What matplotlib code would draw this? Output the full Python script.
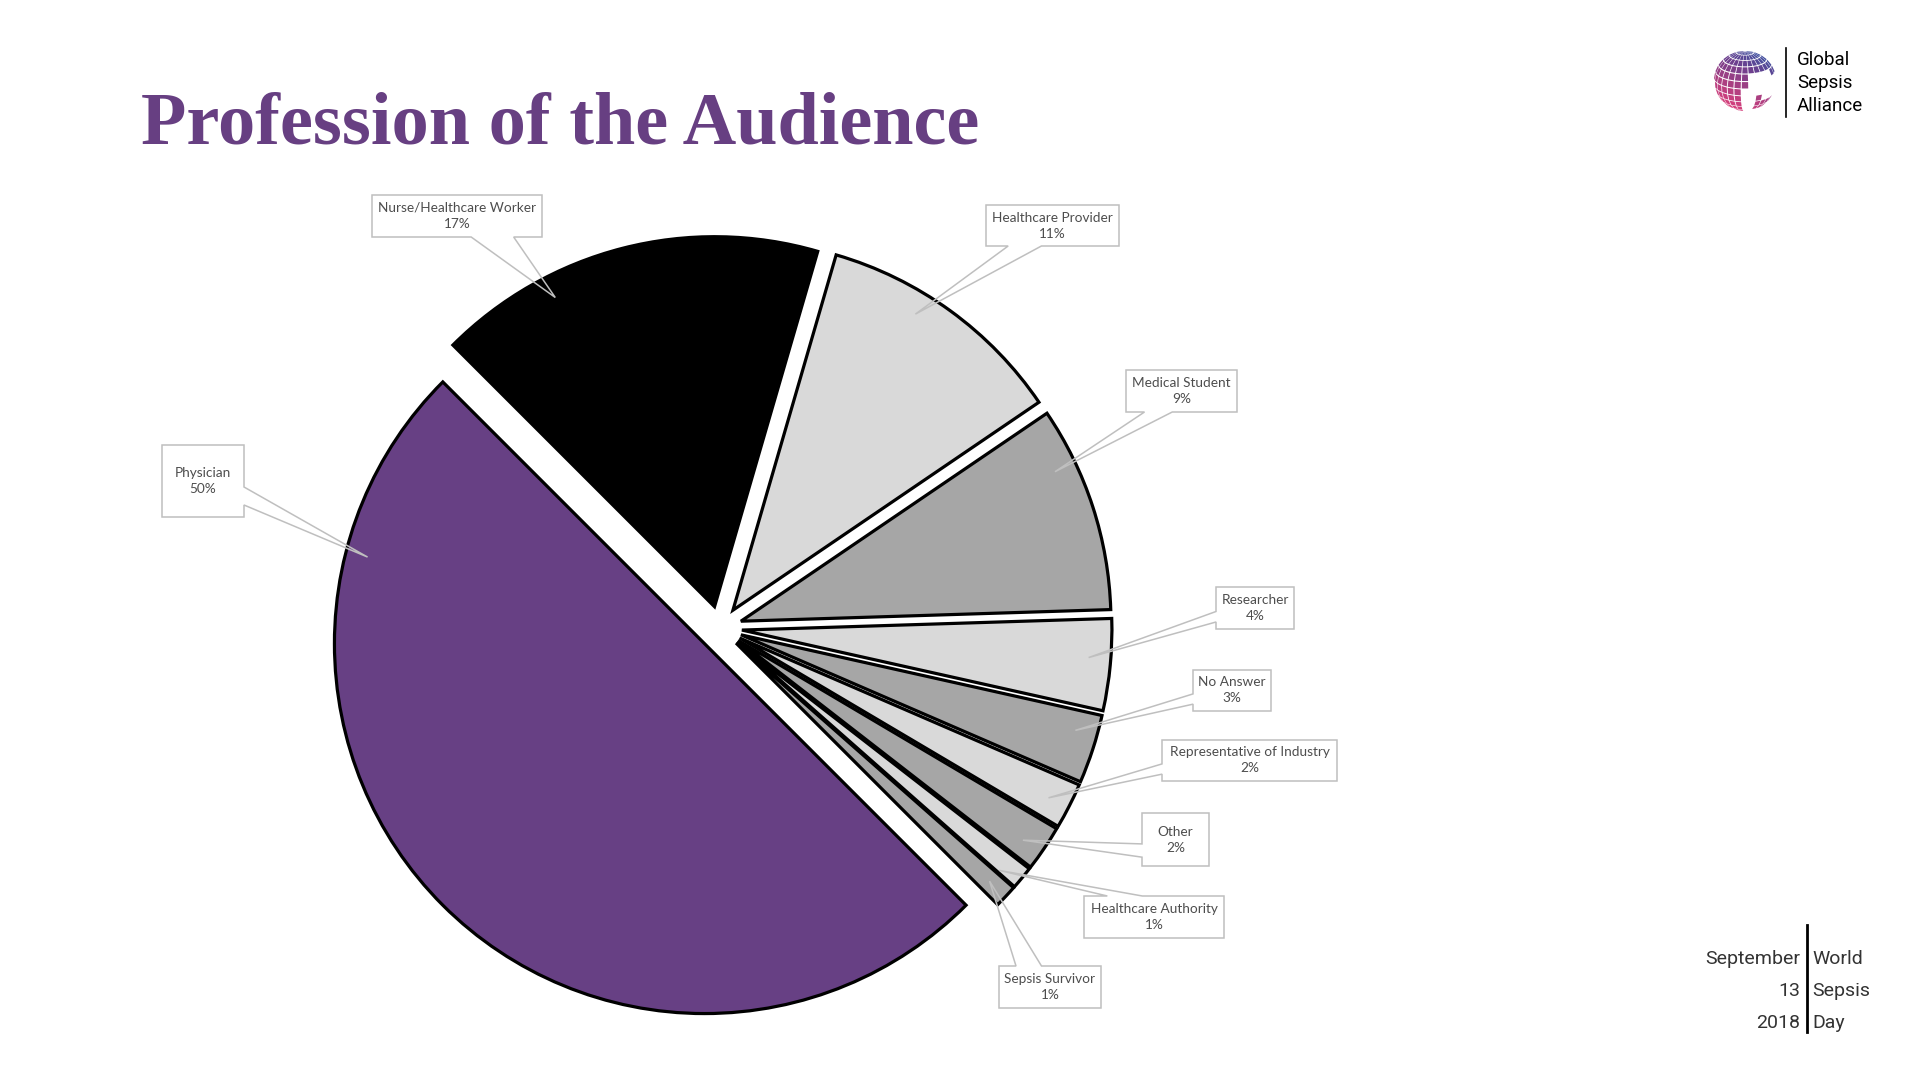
import numpy as np
import matplotlib.pyplot as plt
from matplotlib.patches import Polygon
from matplotlib.colors import LinearSegmentedColormap

labels = ["Physician", "Nurse/Healthcare Worker", "Healthcare Provider", "Medical Student",
          "Researcher", "No Answer", "Representative of Industry", "Other",
          "Healthcare Authority", "Sepsis Survivor"]
shares = [50, 17, 11, 9, 4, 3, 2, 2, 1, 1]
slice_colors = ["#674084", "#000000", "#d9d9d9", "#a6a6a6", "#d9d9d9", "#a6a6a6",
                "#d9d9d9", "#a6a6a6", "#d9d9d9", "#a6a6a6"]

# callout boxes in pixels (y down): x0, y0, x1, y1
boxes = [(162, 445, 244, 517), (372, 195, 542, 237), (986, 205, 1119, 246),
         (1126, 370, 1237, 412), (1216, 587, 1294, 629), (1193, 670, 1271, 711),
         (1162, 740, 1337, 781), (1142, 813, 1209, 866), (1084, 896, 1224, 938),
         (999, 966, 1101, 1008)]
box_side = ["right", "bottom", "bottom", "bottom", "left", "left", "left", "left", "top", "top"]
leader_frac = [0.83, 0.29, 0.39, 0.27, 0.44, 0.31, 0.55, 0.62, 0.9, 0.5]

TITLE_COL = "#673f82"
LABEL_COL = "#4d4d4d"
LINE_COL = "#bfbfbf"


def callout_points(x0, y0, x1, y1, side, tx, ty):
    w, h = x1 - x0, y1 - y0
    lo, hi = (1 / 6, 5 / 12), (7 / 12, 5 / 6)
    if side in ("top", "bottom"):
        fa, fb = lo if tx < (x0 + x1) / 2 else hi
    else:
        fa, fb = lo if ty < (y0 + y1) / 2 else hi
    if side == "top":
        return [(x0, y0), (x0 + fa * w, y0), (tx, ty), (x0 + fb * w, y0), (x1, y0), (x1, y1), (x0, y1)]
    if side == "right":
        return [(x0, y0), (x1, y0), (x1, y0 + fa * h), (tx, ty), (x1, y0 + fb * h), (x1, y1), (x0, y1)]
    if side == "bottom":
        return [(x0, y0), (x1, y0), (x1, y1), (x0 + fb * w, y1), (tx, ty), (x0 + fa * w, y1), (x0, y1)]
    return [(x0, y0), (x1, y0), (x1, y1), (x0, y1), (x0, y0 + fb * h), (tx, ty), (x0, y0 + fa * h)]


fig = plt.figure(figsize=(19.2, 10.8), dpi=100)
ax = fig.add_axes([0, 0, 1, 1])

wedges, _ = ax.pie(shares, colors=slice_colors, startangle=45, counterclock=True,
                   center=(720, 628), radius=370, explode=[22] * len(shares),
                   wedgeprops=dict(edgecolor="black", linewidth=2.3))
ax.set_xlim(0, 1920)
ax.set_ylim(1080, 0)
ax.set_aspect("equal")
ax.axis("off")

# callouts
for w, lab, val, box, side, f in zip(wedges, labels, shares, boxes, box_side, leader_frac):
    t = np.deg2rad(w.theta1 + f * (w.theta2 - w.theta1))
    tx = w.center[0] + 0.94 * w.r * np.cos(t)
    ty = w.center[1] + 0.94 * w.r * np.sin(t)
    pts = callout_points(*box, side, tx, ty)
    ax.add_patch(Polygon(pts, closed=True, fill=False, edgecolor=LINE_COL, linewidth=1.1, zorder=5))
    ax.text((box[0] + box[2]) / 2, (box[1] + box[3]) / 2, f"{lab}\n{val}%", ha="center", va="center",
            multialignment="center", fontsize=9.8, family="Lato", color=LABEL_COL,
            linespacing=1.4, zorder=6)

# title
ax.text(141, 143, "Profession of the Audience", fontsize=53.5, family="Liberation Serif",
        weight="bold", color=TITLE_COL, ha="left", va="baseline")

# logo: small tiled globe
cmap = LinearSegmentedColormap.from_list("gsa", ["#e8407a", "#b13f80", "#6a3f8e", "#2e5ca9"])
gx, gy, gr = 1745, 80, 31
tilt = np.deg2rad(20)
for lat in np.arange(-80, 80, 14):
    for lon in np.arange(-90, 90, 14):
        la = np.deg2rad([lat, lat, lat + 12, lat + 12])
        lo = np.deg2rad([lon, lon + 12, lon + 12, lon])
        X = np.cos(la) * np.sin(lo)
        Y = np.sin(la)
        Z = np.cos(la) * np.cos(lo)
        Yr = Y * np.cos(tilt) - Z * np.sin(tilt)
        Zr = Y * np.sin(tilt) + Z * np.cos(tilt)
        if Zr.min() < -0.05:
            continue
        mx, my = X.mean(), Yr.mean()
        if mx > 0.15 and -0.55 < my < 0.25:
            continue
        if -0.1 < mx < 0.3 and my < -0.3:
            continue
        col = cmap(np.clip((my * 0.75 + mx * 0.35 + 1) / 2, 0, 1))
        ax.add_patch(Polygon(np.column_stack([gx + gr * X, gy - gr * Yr]), closed=True,
                             facecolor=col, edgecolor="none", zorder=3))
ax.plot([1786, 1786], [48, 117], color="black", linewidth=1.2)
for yy, word in zip([60, 83, 106], ["Global", "Sepsis", "Alliance"]):
    ax.text(1797, yy, word, fontsize=13.5, family="Roboto", color="black", ha="left", va="center")

# date block bottom right
ax.plot([1807, 1807], [925, 1032], color="black", linewidth=2)
for yy, left, right in zip([959, 991, 1023], ["September", "13", "2018"], ["World", "Sepsis", "Day"]):
    ax.text(1800, yy, left, fontsize=14, family="Roboto", color="#333333",
            ha="right", va="center")
    ax.text(1812, yy, right, fontsize=14, family="Roboto", color="#333333",
            ha="left", va="center")

fig.savefig("out.png", dpi=100, facecolor="white")
